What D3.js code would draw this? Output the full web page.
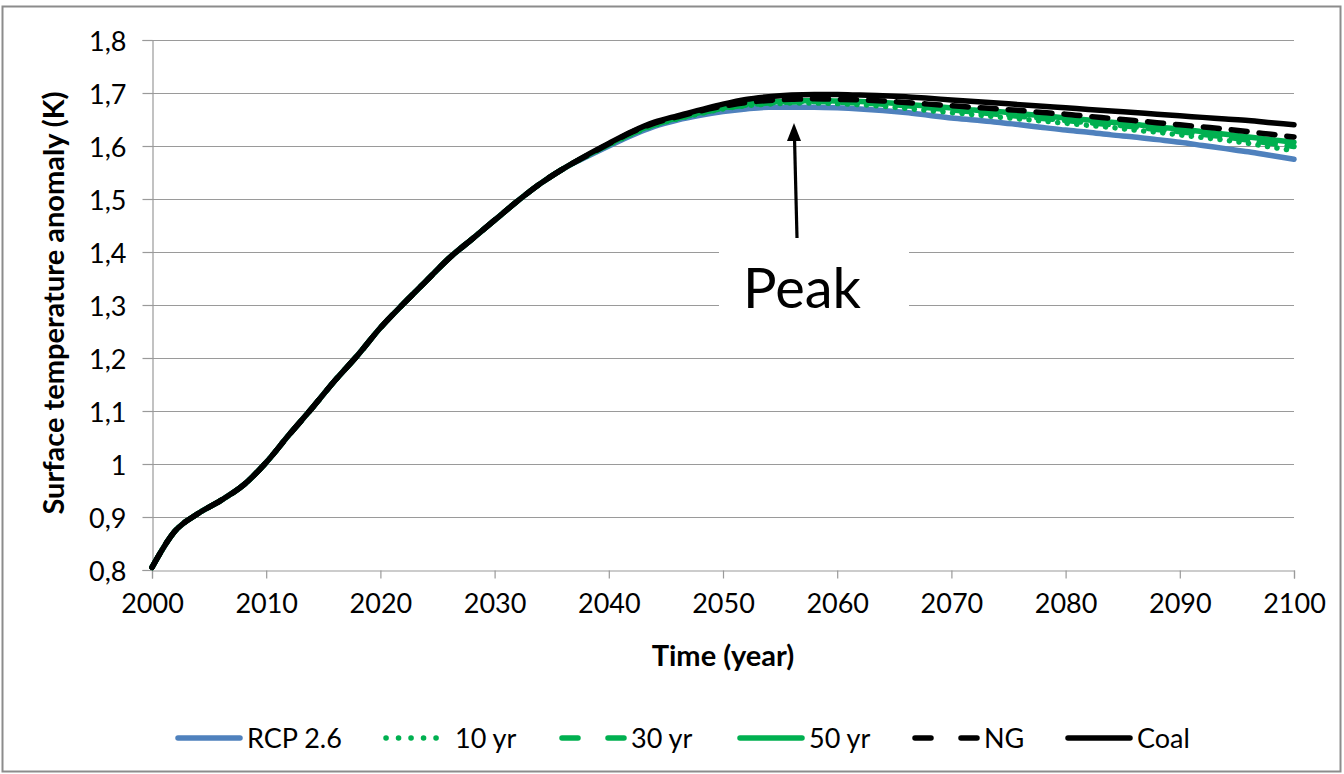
<!DOCTYPE html>
<html>
<head>
<meta charset="utf-8">
<script src="https://cdn.jsdelivr.net/npm/d3@7"></script>
<style>
  html, body { margin: 0; padding: 0; background: #fff; }
  svg { display: block; font-family: Lato, "Open Sans", sans-serif; }
</style>
</head>
<body>
<svg id="chart" width="1344" height="774"></svg>
<script>
// Years sampled every two years
const years = [2000, 2002, 2004, 2006, 2008, 2010, 2012, 2014, 2016, 2018,
  2020, 2022, 2024, 2026, 2028, 2030, 2032, 2034, 2036, 2038,
  2040, 2042, 2044, 2046, 2048, 2050, 2052, 2054, 2056, 2058,
  2060, 2062, 2064, 2066, 2068, 2070, 2072, 2074, 2076, 2078,
  2080, 2082, 2084, 2086, 2088, 2090, 2092, 2094, 2096, 2098, 2100];

// Surface temperature anomaly (K) per scenario
const rcp26 = [0.805, 0.873, 0.906, 0.931, 0.960, 1.003, 1.055, 1.105, 1.157, 1.205,
  1.257, 1.302, 1.345, 1.388, 1.424, 1.460, 1.496, 1.529, 1.557, 1.579,
  1.600, 1.620, 1.637, 1.649, 1.658, 1.665, 1.670, 1.673, 1.673, 1.673,
  1.672, 1.670, 1.667, 1.663, 1.658, 1.653, 1.649, 1.645, 1.640, 1.635,
  1.630, 1.626, 1.621, 1.617, 1.612, 1.607, 1.601, 1.595, 1.589, 1.582, 1.575];
const yr10 = [0.805, 0.873, 0.906, 0.931, 0.960, 1.003, 1.055, 1.105, 1.157, 1.205,
  1.257, 1.302, 1.345, 1.388, 1.424, 1.460, 1.496, 1.529, 1.557, 1.580,
  1.602, 1.622, 1.639, 1.651, 1.661, 1.670, 1.676, 1.679, 1.681, 1.681,
  1.680, 1.678, 1.675, 1.671, 1.667, 1.663, 1.659, 1.655, 1.651, 1.647,
  1.643, 1.639, 1.635, 1.630, 1.626, 1.621, 1.616, 1.611, 1.605, 1.598, 1.591];
const yr30 = [0.805, 0.873, 0.906, 0.931, 0.960, 1.003, 1.055, 1.105, 1.157, 1.205,
  1.257, 1.302, 1.345, 1.388, 1.424, 1.460, 1.496, 1.529, 1.557, 1.581,
  1.603, 1.623, 1.640, 1.652, 1.662, 1.671, 1.677, 1.681, 1.683, 1.684,
  1.683, 1.681, 1.679, 1.676, 1.672, 1.668, 1.664, 1.660, 1.656, 1.652,
  1.648, 1.644, 1.640, 1.636, 1.631, 1.627, 1.622, 1.617, 1.611, 1.605, 1.599];
const yr50 = [0.805, 0.873, 0.906, 0.931, 0.960, 1.003, 1.055, 1.105, 1.157, 1.205,
  1.257, 1.302, 1.345, 1.388, 1.424, 1.460, 1.496, 1.529, 1.557, 1.581,
  1.603, 1.624, 1.641, 1.653, 1.663, 1.672, 1.679, 1.683, 1.685, 1.686,
  1.685, 1.684, 1.682, 1.679, 1.675, 1.672, 1.668, 1.665, 1.661, 1.657,
  1.653, 1.649, 1.645, 1.641, 1.636, 1.632, 1.627, 1.622, 1.617, 1.612, 1.607];
const ng = [0.805, 0.873, 0.906, 0.931, 0.960, 1.003, 1.055, 1.105, 1.157, 1.205,
  1.257, 1.302, 1.345, 1.388, 1.424, 1.460, 1.496, 1.529, 1.557, 1.581,
  1.604, 1.626, 1.643, 1.655, 1.666, 1.675, 1.682, 1.686, 1.688, 1.689,
  1.688, 1.687, 1.685, 1.682, 1.679, 1.676, 1.673, 1.670, 1.667, 1.663,
  1.660, 1.656, 1.652, 1.648, 1.644, 1.640, 1.636, 1.632, 1.627, 1.622, 1.617];
const coal = [0.805, 0.873, 0.906, 0.931, 0.960, 1.003, 1.055, 1.105, 1.157, 1.205,
  1.257, 1.302, 1.345, 1.388, 1.424, 1.460, 1.496, 1.529, 1.557, 1.582,
  1.605, 1.627, 1.645, 1.657, 1.668, 1.679, 1.688, 1.693, 1.696, 1.697,
  1.697, 1.696, 1.695, 1.693, 1.690, 1.687, 1.684, 1.681, 1.678, 1.675,
  1.672, 1.669, 1.666, 1.663, 1.660, 1.657, 1.654, 1.651, 1.648, 1.644, 1.640];

const seriesNames = ["RCP 2.6", "10 yr", "30 yr", "50 yr", "NG", "Coal"];
const xTicks = [2000, 2010, 2020, 2030, 2040, 2050, 2060, 2070, 2080, 2090, 2100];
const yTicks = [0.8, 0.9, 1.0, 1.1, 1.2, 1.3, 1.4, 1.5, 1.6, 1.7, 1.8];

const seriesValues = [rcp26, yr10, yr30, yr50, ng, coal];
const styles = [
  { color: "#4F81BD", dash: null },
  { color: "#00B050", dash: "0.1 9.5" },
  { color: "#00B050", dash: "16 12" },
  { color: "#00B050", dash: null },
  { color: "#000000", dash: "16 12" },
  { color: "#000000", dash: null }
];

const svg = d3.select("#chart");
const plot = { left: 152, right: 1294, top: 40, bottom: 570 };
const gridColor = "#9a9a9a";

// Chart frame
svg.append("rect")
  .attr("x", 2.5).attr("y", 6.5).attr("width", 1338).attr("height", 765)
  .attr("fill", "#fff").attr("stroke", "#8c8c8c").attr("stroke-width", 2);

const x = d3.scaleLinear().domain([2000, 2100]).range([plot.left, plot.right]);
const y = d3.scaleLinear().domain([0.8, 1.8]).range([plot.bottom, plot.top]);
const fmt = v => (Math.abs(v - 1) < 1e-9 ? "1" : d3.format(".1f")(v).replace(".", ","));

// Horizontal gridlines
svg.append("g")
  .selectAll("line")
  .data(yTicks.filter(v => v > 0.8))
  .join("line")
  .attr("x1", plot.left).attr("x2", plot.right)
  .attr("y1", d => Math.round(y(d)) + 0.5).attr("y2", d => Math.round(y(d)) + 0.5)
  .attr("stroke", gridColor).attr("stroke-width", 1.2);

// Y axis
const yAxis = svg.append("g")
  .attr("transform", `translate(${plot.left + 0.5},0)`)
  .call(d3.axisLeft(y).tickValues(yTicks).tickFormat(fmt).tickSize(10).tickPadding(16));
yAxis.select(".domain").attr("stroke", gridColor).attr("stroke-width", 1.2);
yAxis.selectAll(".tick line").attr("stroke", gridColor).attr("stroke-width", 1.2);
yAxis.selectAll(".tick text")
  .attr("font-family", "Lato, sans-serif").attr("font-size", 27)
  .attr("fill", "#000").attr("dy", "0.38em");

// X axis
const xAxis = svg.append("g")
  .attr("transform", `translate(0,${plot.bottom + 0.5})`)
  .call(d3.axisBottom(x).tickValues(xTicks).tickFormat(d3.format("d")).tickSize(8).tickPadding(15));
xAxis.select(".domain").attr("stroke", gridColor).attr("stroke-width", 1.2);
xAxis.selectAll(".tick line").attr("stroke", gridColor).attr("stroke-width", 1.2);
xAxis.selectAll(".tick text")
  .attr("font-family", "Lato, sans-serif").attr("font-size", 27)
  .attr("fill", "#000");

// Axis titles
svg.append("text")
  .attr("x", (plot.left + plot.right) / 2).attr("y", 666)
  .attr("text-anchor", "middle")
  .attr("font-family", "Lato, sans-serif").attr("font-weight", "bold").attr("font-size", 29)
  .text("Time (year)");
svg.append("text")
  .attr("transform", `translate(64,${(plot.top + plot.bottom) / 2 - 2}) rotate(-90)`)
  .attr("text-anchor", "middle")
  .attr("font-family", "Lato, sans-serif").attr("font-weight", "bold").attr("font-size", 29)
  .text("Surface temperature anomaly (K)");

// Series lines
const line = d3.line()
  .x((d, i) => x(years[i]))
  .y(d => y(d))
  .curve(d3.curveMonotoneX);

svg.append("g")
  .selectAll("path")
  .data(seriesValues)
  .join("path")
  .attr("d", d => line(d))
  .attr("fill", "none")
  .attr("stroke", (d, i) => styles[i].color)
  .attr("stroke-width", 5.5)
  .attr("stroke-linecap", "round")
  .attr("stroke-linejoin", "round")
  .attr("stroke-dasharray", (d, i) => styles[i].dash);

// Peak annotation: white label box, text and arrow
svg.append("rect")
  .attr("x", 719).attr("y", 240).attr("width", 190).attr("height", 90)
  .attr("fill", "#fff");
svg.append("text")
  .attr("x", 802).attr("y", 308)
  .attr("text-anchor", "middle")
  .attr("font-family", "Lato, sans-serif").attr("font-size", 56)
  .text("Peak");
svg.append("line")
  .attr("x1", 797).attr("y1", 238).attr("x2", 794.5).attr("y2", 138)
  .attr("stroke", "#000").attr("stroke-width", 3.2);
svg.append("path")
  .attr("d", "M794,123 L801,141 L787,141 Z")
  .attr("fill", "#000");

// Legend
const legendX = [175, 383, 559, 737, 912, 1065];
const legendY = 738;
const legend = svg.append("g")
  .selectAll("g")
  .data(seriesNames)
  .join("g")
  .attr("transform", (d, i) => `translate(${legendX[i]},${legendY})`);
legend.append("line")
  .attr("x1", 3).attr("x2", 65).attr("y1", 0).attr("y2", 0)
  .attr("stroke", (d, i) => styles[i].color)
  .attr("stroke-width", 5.5)
  .attr("stroke-linecap", "round")
  .attr("stroke-dasharray", (d, i) => i === 1 ? "0.1 12.4" : styles[i].dash ? "16 30" : null);
legend.append("text")
  .attr("x", 72).attr("y", 0).attr("dy", "0.36em")
  .attr("font-family", "Lato, sans-serif").attr("font-size", 27)
  .text(d => d);
</script>
</body>
</html>
